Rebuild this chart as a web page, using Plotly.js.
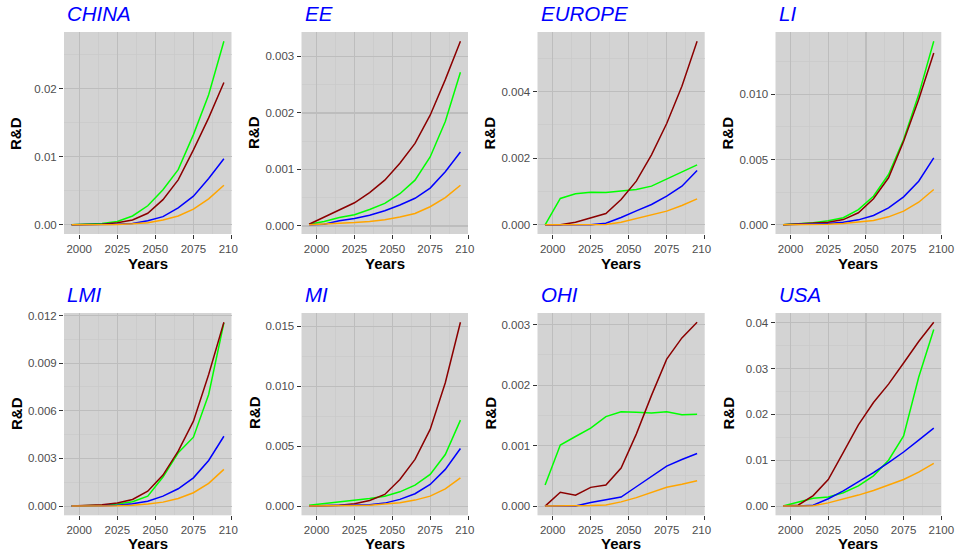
<!DOCTYPE html>
<html>
<head>
<meta charset="utf-8">
<script src="https://cdn.plot.ly/plotly-3.0.1.min.js"></script>
<style>html,body{margin:0;padding:0;background:#fff;}#chart{width:958px;height:558px;}</style>
</head>
<body>
<div id="chart"></div>
<script>
// ---------- DATA ----------
const years = [1995, 2005, 2015, 2025, 2035, 2045, 2055, 2065, 2075, 2085, 2095];
const regions = ["CHINA", "EE", "EUROPE", "LI", "LMI", "MI", "OHI", "USA"];
const xTickVals = [2000, 2025, 2050, 2075, 2100];

const chinaGreen   = [0, 0.00005, 0.0002, 0.0005, 0.0013, 0.0028, 0.00515, 0.0081, 0.01324, 0.0191, 0.02696];
const chinaDarkred = [0, 0.00003, 0.0001, 0.0003, 0.0007, 0.0017, 0.0037, 0.0066, 0.0110, 0.0157, 0.0209];
const chinaBlue    = [0, 0, 0.00003, 0.0001, 0.0002, 0.0006, 0.0012, 0.0025, 0.0042, 0.0068, 0.0097];
const chinaOrange  = [0, 0, 0.00002, 0.00005, 0.00015, 0.0003, 0.0007, 0.0013, 0.0023, 0.0038, 0.0058];

const eeGreen   = [0.00003, 0.00008, 0.00015, 0.0002, 0.00029, 0.0004, 0.00057, 0.00081, 0.00122, 0.00185, 0.00272];
const eeDarkred = [0.00003, 0.00016, 0.00028, 0.00041, 0.00059, 0.00081, 0.00111, 0.00146, 0.00196, 0.00259, 0.00327];
const eeBlue    = [0.00002, 0.00003, 0.00009, 0.00013, 0.00019, 0.00027, 0.00037, 0.00049, 0.00067, 0.00096, 0.00131];
const eeOrange  = [0.00002, 0.00003, 0.00004, 0.00006, 0.00008, 0.00011, 0.00016, 0.00022, 0.00034, 0.0005, 0.00072];

const europeGreen   = [0, 0.00079, 0.00093, 0.00098, 0.00097, 0.00101, 0.00106, 0.00116, 0.00138, 0.00158, 0.0018];
const europeDarkred = [0, 0, 0.00008, 0.00021, 0.00034, 0.00076, 0.00131, 0.0021, 0.00304, 0.00416, 0.00551];
const europeBlue    = [0, 0, 0, 0, 0.00005, 0.00022, 0.00042, 0.00061, 0.00086, 0.00116, 0.00163];
const europeOrange  = [0, 0, 0, 0, 0.00001, 0.00008, 0.00019, 0.00028, 0.00041, 0.00058, 0.00078];

const liGreen   = [0, 0.00008, 0.00015, 0.00031, 0.00054, 0.00117, 0.00219, 0.00385, 0.00653, 0.00997, 0.01406];
const liDarkred = [0, 0.00005, 0.0001, 0.0002, 0.0004, 0.00092, 0.002, 0.0036, 0.0064, 0.0096, 0.01316];
const liBlue    = [0, 0.00002, 0.00005, 0.0001, 0.0002, 0.00038, 0.00071, 0.0013, 0.00214, 0.00334, 0.00513];
const liOrange  = [0, 0, 0.00002, 0.00005, 0.0001, 0.0002, 0.00033, 0.00061, 0.00105, 0.00173, 0.0027];

const lmiGreen   = [0, 0.00002, 0.00006, 0.00013, 0.00027, 0.00063, 0.00183, 0.00336, 0.00434, 0.00703, 0.01154];
const lmiDarkred = [0, 0.00002, 0.00008, 0.00019, 0.00042, 0.00094, 0.00195, 0.00346, 0.00535, 0.00829, 0.01158];
const lmiBlue    = [0, 0, 0.00002, 0.00006, 0.00015, 0.00031, 0.00063, 0.00109, 0.00178, 0.00287, 0.0044];
const lmiOrange  = [0, 0, 0, 0.00002, 0.00006, 0.00013, 0.00025, 0.00048, 0.00084, 0.00143, 0.00231];

const miGreen   = [0.00008, 0.00022, 0.00036, 0.00047, 0.00064, 0.00083, 0.00119, 0.00175, 0.00264, 0.0043, 0.00717];
const miDarkred = [0, 0.00003, 0.00008, 0.00019, 0.00047, 0.00097, 0.00222, 0.00389, 0.00639, 0.01028, 0.01533];
const miBlue    = [0, 0.00002, 0.00003, 0.00005, 0.00011, 0.00025, 0.00056, 0.00103, 0.0018, 0.00306, 0.0048];
const miOrange  = [0, 0.00002, 0.00003, 0.00005, 0.00008, 0.00017, 0.00028, 0.0005, 0.00083, 0.00144, 0.00236];

const ohiGreen   = [0.00035, 0.00101, 0.00115, 0.00129, 0.00148, 0.00156, 0.00155, 0.00154, 0.00156, 0.00151, 0.00152];
const ohiDarkred = [0, 0.00023, 0.00018, 0.00031, 0.00035, 0.00063, 0.00119, 0.00183, 0.00243, 0.00278, 0.00304];
const ohiBlue    = [0, 0, 0, 0.00006, 0.0001, 0.00015, 0.00032, 0.00049, 0.00066, 0.00077, 0.00087];
const ohiOrange  = [0, 0, 0, 0.00001, 0.00002, 0.00007, 0.00014, 0.00023, 0.00031, 0.00036, 0.00042];

const usaGreen   = [0, 0.0009, 0.0017, 0.002, 0.0029, 0.0044, 0.0066, 0.01, 0.0153, 0.0281, 0.0385];
const usaDarkred = [0, 0.0002, 0.0023, 0.0058, 0.0117, 0.0177, 0.0226, 0.0266, 0.0312, 0.0359, 0.0401];
const usaBlue    = [0, 0, 0.0002, 0.0016, 0.0033, 0.0053, 0.0073, 0.0095, 0.0118, 0.0144, 0.017];
const usaOrange  = [0, 0, 0.0001, 0.0007, 0.0015, 0.0024, 0.0034, 0.0046, 0.0058, 0.0074, 0.0093];

const seriesByRegion = {
  CHINA:  [chinaGreen, chinaDarkred, chinaBlue, chinaOrange],
  EE:     [eeGreen, eeDarkred, eeBlue, eeOrange],
  EUROPE: [europeGreen, europeDarkred, europeBlue, europeOrange],
  LI:     [liGreen, liDarkred, liBlue, liOrange],
  LMI:    [lmiGreen, lmiDarkred, lmiBlue, lmiOrange],
  MI:     [miGreen, miDarkred, miBlue, miOrange],
  OHI:    [ohiGreen, ohiDarkred, ohiBlue, ohiOrange],
  USA:    [usaGreen, usaDarkred, usaBlue, usaOrange]
};
const yTickStep = {CHINA: 0.01, EE: 0.001, EUROPE: 0.002, LI: 0.005, LMI: 0.003, MI: 0.005, OHI: 0.001, USA: 0.01};
const yTickFmt  = {CHINA: ".2f", EE: ".3f", EUROPE: ".3f", LI: ".3f", LMI: ".3f", MI: ".3f", OHI: ".3f", USA: ".2f"};

// ---------- STYLE / LAYOUT ----------
const W = 958, H = 558;
const lineColors = ["#00FF00", "#8B0000", "#0000FF", "#FFA500"];
const seriesNames = ["green", "darkred", "blue", "orange"];
const colBoxes = [[64, 231.5], [301.5, 468], [537.5, 704.7], [775.5, 941.3]];
const rowBoxes = [[32, 234], [313, 515.3]];
const titleY = [13.5, 294.5];
const xlabY = [263, 543.5];
const ylabX = [16, 254, 489.5, 727.5];
const ylabY = [133, 413];

const traces = [];
const layout = {
  width: W, height: H,
  margin: {l: 0, r: 0, t: 0, b: 0},
  paper_bgcolor: "#FFFFFF",
  plot_bgcolor: "#D3D3D3",
  showlegend: false,
  font: {family: "Liberation Sans, Arial, sans-serif"},
  annotations: []
};

regions.forEach((reg, i) => {
  const col = i % 4, row = Math.floor(i / 4);
  const ax = i === 0 ? "" : String(i + 1);
  const sers = seriesByRegion[reg];
  sers.forEach((vals, k) => {
    traces.push({
      type: "scatter", mode: "lines",
      x: years, y: vals,
      name: reg + " " + seriesNames[k],
      xaxis: "x" + ax, yaxis: "y" + ax,
      line: {color: lineColors[k], width: 1.5},
      hoverinfo: "x+y"
    });
  });
  const all = [].concat(...sers);
  const mn = Math.min(...all), mx = Math.max(...all);
  const pad = 0.05 * (mx - mn);
  const yMin = mn - pad, yMax = mx + pad;
  const xMin = Math.min(...years), xMax = Math.max(...years);
  const xPad = 0.05 * (xMax - xMin);

  const [x0, x1] = colBoxes[col];
  const [y0, y1] = rowBoxes[row];
  const step = yTickStep[reg];
  const yVals = [];
  for (let v = 0; v <= yMax + 1e-12; v += step) yVals.push(+v.toFixed(6));
  const xText = xTickVals.map(v => (v === 2100 && col < 3) ? "210\u2007" : String(v));

  layout["xaxis" + ax] = {
    domain: [x0 / W, x1 / W],
    anchor: "y" + ax,
    range: [xMin - xPad, xMax + xPad],
    tickmode: "array", tickvals: xTickVals, ticktext: xText,
    ticks: "outside", ticklen: 4, tickwidth: 1, tickcolor: "#333333",
    tickfont: {size: 11.5, color: "#4D4D4D"},
    showgrid: true, gridcolor: "#BDBDBD", gridwidth: 1.2,
    minor: {tickmode: "array", tickvals: [1987.5, 2012.5, 2037.5, 2062.5, 2087.5], showgrid: true, gridcolor: "#C9C9C9", gridwidth: 0.7, ticks: ""},
    zeroline: false, showline: false, fixedrange: true
  };
  layout["yaxis" + ax] = {
    domain: [1 - y1 / H, 1 - y0 / H],
    anchor: "x" + ax,
    range: [yMin, yMax],
    tickmode: "array", tickvals: yVals, ticktext: yVals.map(v => Plotly.d3 ? v.toFixed(yTickFmt[reg] === ".2f" ? 2 : 3) : v.toFixed(yTickFmt[reg] === ".2f" ? 2 : 3)),
    ticks: "outside", ticklen: 4, tickwidth: 1, tickcolor: "#333333",
    tickfont: {size: 11.5, color: "#4D4D4D"},
    showgrid: true, gridcolor: "#BDBDBD", gridwidth: 1.2,
    minor: {dtick: step / 2, tick0: step / 2, showgrid: true, gridcolor: "#C9C9C9", gridwidth: 0.7, ticks: ""},
    zeroline: false, showline: false, fixedrange: true
  };

  layout.annotations.push({
    text: reg, xref: "paper", yref: "paper",
    x: (x0 + 1) / W, y: 1 - titleY[row] / H,
    xanchor: "left", yanchor: "middle", showarrow: false,
    font: {size: 20.5, color: "#0000FF", style: "italic"}
  });
  layout.annotations.push({
    text: "<b>Years</b>", xref: "paper", yref: "paper",
    x: ((x0 + x1) / 2) / W, y: 1 - xlabY[row] / H,
    xanchor: "center", yanchor: "middle", showarrow: false,
    font: {size: 15, color: "#000000"}
  });
  layout.annotations.push({
    text: "<b>R&amp;D</b>", xref: "paper", yref: "paper",
    x: ylabX[col] / W, y: 1 - ylabY[row] / H,
    xanchor: "center", yanchor: "middle", showarrow: false, textangle: -90,
    font: {size: 15, color: "#000000"}
  });
});

Plotly.newPlot("chart", traces, layout, {displayModeBar: false, staticPlot: true});
</script>
</body>
</html>
